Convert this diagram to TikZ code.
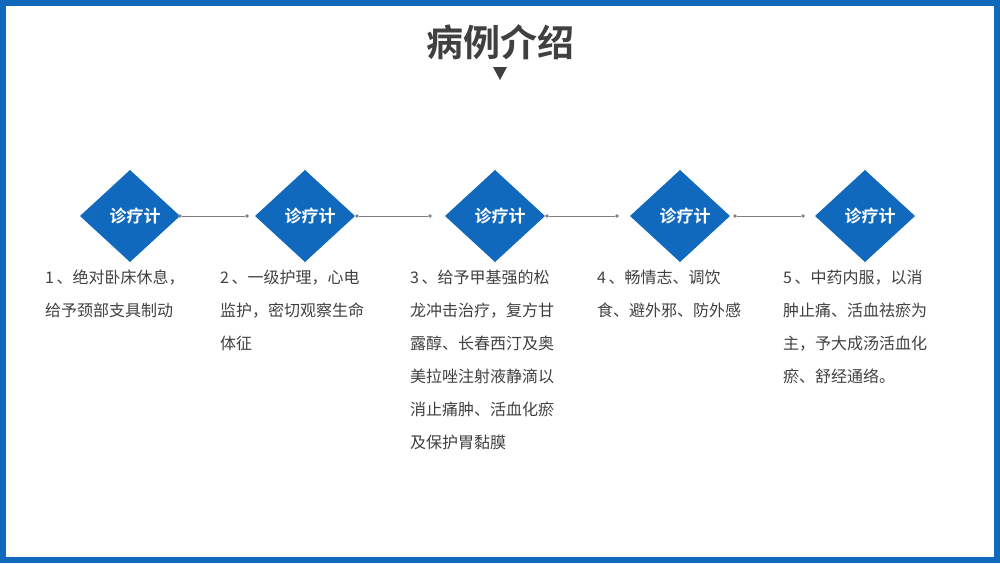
\documentclass[tikz,border=0pt]{standalone}
\usepackage{fontspec}
\newfontfamily\cjk{Noto Sans CJK SC}
\newfontfamily\cjkb{Noto Sans CJK SC Bold}
\definecolor{mblue}{RGB}{17,105,190}
\definecolor{dgray}{RGB}{64,64,64}
\definecolor{lgray}{RGB}{128,128,128}
\begin{document}
\begin{tikzpicture}[x=1pt,y=-1pt,
  dia/.style={fill=mblue,draw=none},
  lab/.style={text=white,font=\cjkb\fontsize{17}{17}\selectfont},
  body/.style={anchor=north west,align=left,text=dgray,inner sep=0,font=\cjk\fontsize{16}{33}\selectfont},
  conn/.style={draw=lgray,line width=0.8pt},
  dot/.style={circle,fill=lgray,inner sep=1.3pt}]
\useasboundingbox (0,0) rectangle (1000,563);
\draw[mblue,line width=6pt] (3,3) rectangle (997,560);
\node[text=dgray,font=\cjkb\fontsize{37}{37}\selectfont] (title) at (500,42) {病例介绍};
\fill[dgray] (493,67) -- (507,67) -- (500,80) -- cycle;
\foreach \i/\x in {1/130,2/305,3/495,4/680,5/865}{
  \fill[dia] (\x-50,216) -- (\x,170) -- (\x+50,216) -- (\x,262) -- cycle;
  \node[lab] (d\i) at (\x+5,216) {诊疗计};
}
\foreach \a/\b in {180/247,357/430,547/617,735/803}{
  \node[dot] (s\a) at (\a,216) {};
  \node[dot] (e\a) at (\b,216) {};
  \draw[conn] (s\a) -- (e\a);
}
\node[body] (t1) at (45,270) {1\,、绝对卧床休息，\\给予颈部支具制动};
\node[body] (t2) at (220,270) {2\,、一级护理，心电\\监护，密切观察生命\\体征};
\node[body] (t3) at (410,270) {3\,、给予甲基强的松\\龙冲击治疗，复方甘\\露醇、长春西汀及奥\\美拉唑注射液静滴以\\消止痛肿、活血化瘀\\及保护胃黏膜};
\node[body] (t4) at (597,270) {4\,、畅情志、调饮\\食、避外邪、防外感};
\node[body] (t5) at (783,270) {5\,、中药内服，以消\\肿止痛、活血祛瘀为\\主，予大成汤活血化\\瘀、舒经通络。};
\end{tikzpicture}
\end{document}
